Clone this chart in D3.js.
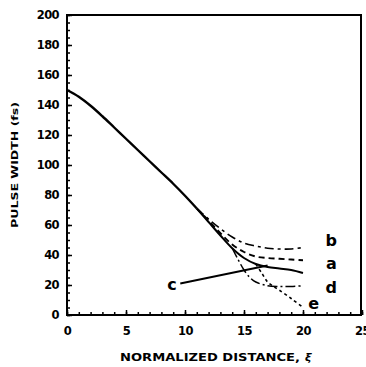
<!DOCTYPE html>
<html>
<head>
<meta charset="utf-8">
<script src="https://cdn.jsdelivr.net/npm/d3@7"></script>
<style>
  body { margin: 0; background: #fff; }
  text { font-family: "DejaVu Sans", Arial, sans-serif; font-weight: bold; fill: #000; }
</style>
</head>
<body>
<script>
// pulse width vs normalized distance, curves a-e
var mainX = [0, 1, 2, 3, 4, 5, 6, 7, 8, 9, 10, 11];
var mainY = [150, 145.5, 139.5, 132.5, 125, 117.5, 110, 102.5, 95, 87.5, 79.5, 71];

var cX = [11, 12, 13, 14, 15, 16, 17, 18, 19, 20];
var cY = [71, 62, 53, 44.5, 38, 34, 32, 31, 30, 28];

var aX = [11, 12, 13, 14, 15, 16, 17, 18, 19, 20];
var aY = [71, 63, 54.5, 47, 42, 39, 38, 37.5, 37, 36.5];

var bX = [11, 12, 13, 14, 15, 16, 17, 18, 19, 20];
var bY = [71, 64, 57.5, 52, 48, 46, 44.5, 44, 44, 45];

var dX = [14, 14.5, 15, 15.5, 16, 17, 18, 19, 20];
var dY = [44.5, 37, 30, 25, 22, 19.5, 19, 19, 19.5];

var eX = [16, 16.5, 17, 17.5, 18, 19, 20];
var eY = [34, 28, 22, 19, 16.5, 11, 5];

var xTicks = [0, 5, 10, 15, 20, 25];
var yTicks = [0, 20, 40, 60, 80, 100, 120, 140, 160, 180, 200];

var W = 366, H = 367;
var svg = d3.select("body").append("svg").attr("width", W).attr("height", H);

var x = d3.scaleLinear().domain([0, 25]).range([67, 362]);
var y = d3.scaleLinear().domain([0, 200]).range([315, 15]);

// frame
svg.append("rect")
   .attr("x", x(0)).attr("y", y(200))
   .attr("width", x(25) - x(0) - 1).attr("height", y(0) - y(200))
   .attr("fill", "none").attr("stroke", "#000").attr("stroke-width", 2);

// axes, ticks pointing in
svg.append("g").attr("transform", "translate(0," + y(0) + ")")
   .call(d3.axisBottom(x).tickValues(xTicks).tickSize(-5).tickPadding(12).tickFormat(d3.format("d")));
svg.append("g").attr("transform", "translate(0," + y(0) + ")")
   .call(d3.axisBottom(x).tickValues(d3.range(0, 26, 1)).tickSize(-3).tickFormat(""));
svg.append("g").attr("transform", "translate(" + x(0) + ",0)")
   .call(d3.axisLeft(y).tickValues(yTicks).tickSize(-5).tickPadding(8).tickFormat(d3.format("d")));
svg.append("g").attr("transform", "translate(" + x(0) + ",0)")
   .call(d3.axisLeft(y).tickValues(d3.range(0, 201, 5)).tickSize(-3).tickFormat(""));

svg.selectAll(".domain").remove();
svg.selectAll(".tick line").attr("stroke", "#000").attr("stroke-width", 1.5);
svg.selectAll(".tick text").style("font-size", "11.5px").style("font-weight", "bold")
   .style("font-family", "'DejaVu Sans', sans-serif")
   .style("letter-spacing", "-0.6px").attr("fill", "#000");

// axis titles
svg.append("text")
   .attr("x", 120).attr("y", 361)
   .attr("textLength", 180).attr("lengthAdjust", "spacingAndGlyphs")
   .style("font-size", "10.5px")
   .text("NORMALIZED DISTANCE,");
svg.append("text")
   .attr("x", 305).attr("y", 361)
   .style("font-size", "11px").style("font-style", "italic")
   .text("ξ");

svg.append("text")
   .attr("transform", "translate(18,165) rotate(-90)")
   .attr("text-anchor", "middle")
   .attr("textLength", 126).attr("lengthAdjust", "spacingAndGlyphs")
   .style("font-size", "9.5px")
   .text("PULSE WIDTH (fs)");

// curves
function pts(xs, ys) { return xs.map(function (v, i) { return [v, ys[i]]; }); }
var line = d3.line().x(function (d) { return x(d[0]); }).y(function (d) { return y(d[1]); })
             .curve(d3.curveCatmullRom);

var curves = [
  { p: pts(mainX, mainY), dash: null, w: 2.4 },
  { p: pts(bX, bY), dash: "9,4,3,4", w: 1.6 },
  { p: pts(aX, aY), dash: "6,4", w: 1.9 },
  { p: pts(cX, cY), dash: null, w: 2 },
  { p: pts(dX, dY), dash: "10,3,2,3", w: 1.5 },
  { p: pts(eX, eY), dash: "3,3", w: 1.6 }
];

svg.selectAll(".curve").data(curves).enter().append("path")
   .attr("class", "curve")
   .attr("d", function (d) { return line(d.p); })
   .attr("fill", "none").attr("stroke", "#000")
   .attr("stroke-width", function (d) { return d.w; })
   .attr("stroke-dasharray", function (d) { return d.dash; });

// pointer for c
svg.append("line")
   .attr("x1", x(9.6)).attr("y1", y(21))
   .attr("x2", x(17)).attr("y2", y(33))
   .attr("stroke", "#000").attr("stroke-width", 1.8);

// curve labels
var labels = [
  { t: "b", lx: 22.4, ly: 46 },
  { t: "a", lx: 22.4, ly: 31 },
  { t: "d", lx: 22.4, ly: 15 },
  { t: "c", lx: 8.9, ly: 17 },
  { t: "e", lx: 20.9, ly: 4 }
];
svg.selectAll(".lab").data(labels).enter().append("text")
   .attr("class", "lab")
   .attr("x", function (d) { return x(d.lx); })
   .attr("y", function (d) { return y(d.ly); })
   .attr("text-anchor", "middle")
   .style("font-size", "16px")
   .text(function (d) { return d.t; });
</script>
</body>
</html>
